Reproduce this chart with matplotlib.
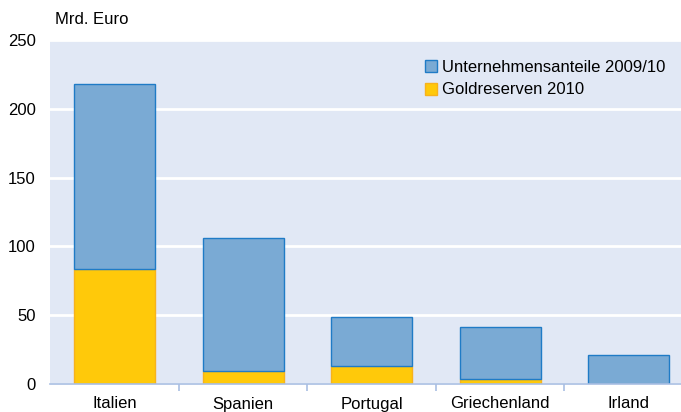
import matplotlib
matplotlib.use("Agg")
import matplotlib.pyplot as plt
import numpy as np

categories = ["Italien", "Spanien", "Portugal", "Griechenland", "Irland"]
gold = [83.5, 9.5, 13.0, 3.6, 0.3]
total = [218, 106, 48.5, 41.5, 21]
unternehmen = [t - g for t, g in zip(total, gold)]
yticks = [0, 50, 100, 150, 200, 250]

plt.rcParams['font.family'] = ['Liberation Sans', 'DejaVu Sans']
bg = '#E1E8F5'
blue = '#7AAAD4'
blue_edge = '#1F7BC6'
yellow = '#FFC90A'
yellow_edge = '#F7B21C'
fs = 12

fig = plt.figure(figsize=(6.81, 4.12), dpi=100)
# axes extends slightly past right edge as in the reference
left = 50.5 / 681
right = 693 / 681
bottom = 1 - 384 / 412
top = 1 - 40 / 412
ax = fig.add_axes([left, bottom, right - left, top - bottom])
ax.set_facecolor(bg)

x = np.arange(len(categories))
w = 0.63
ax.bar(x, gold, width=w, color=yellow, edgecolor=yellow_edge, linewidth=1.0, zorder=3,
       label="Goldreserven 2010")
ax.bar(x, unternehmen, bottom=gold, width=w, color=blue, edgecolor=blue_edge, linewidth=1.0,
       zorder=3, label="Unternehmensanteile 2009/10")

ax.set_xlim(-0.5, len(categories) - 0.5)
ax.set_ylim(0, 250)
ax.set_yticks(yticks)
ax.yaxis.grid(True, color='white', linewidth=2.0, zorder=1)
ax.set_axisbelow(True)
for s in ['top', 'right', 'left']:
    ax.spines[s].set_visible(False)
ax.spines['bottom'].set_color('#A9BFE3')
ax.spines['bottom'].set_linewidth(1.2)
ax.spines['bottom'].set_zorder(4)

ax.set_xticks(x)
ax.set_xticklabels(categories, fontsize=fs)
ax.tick_params(axis='x', length=0, pad=9)
ax.set_xticks(np.arange(0.5, len(categories) - 0.5, 1), minor=True)
ax.tick_params(axis='x', which='minor', length=5, color='#A9BFE3', width=1.2)
ax.tick_params(axis='y', length=0, labelsize=fs, pad=10.5)

fig.text(55 / 681, 1 - 20 / 412, "Mrd. Euro", fontsize=fs, va='center', ha='left')

handles, labels = ax.get_legend_handles_labels()
leg = ax.legend(handles[::-1], labels[::-1], loc='upper left',
                bbox_to_anchor=((425 - 50.5) / (693 - 50.5), 1 - 20 / 344),
                frameon=False, fontsize=fs, handlelength=0.7, handleheight=0.7,
                handletextpad=0.35, labelspacing=0.45, borderaxespad=0, borderpad=0)

fig.savefig("out.png", dpi=100)
